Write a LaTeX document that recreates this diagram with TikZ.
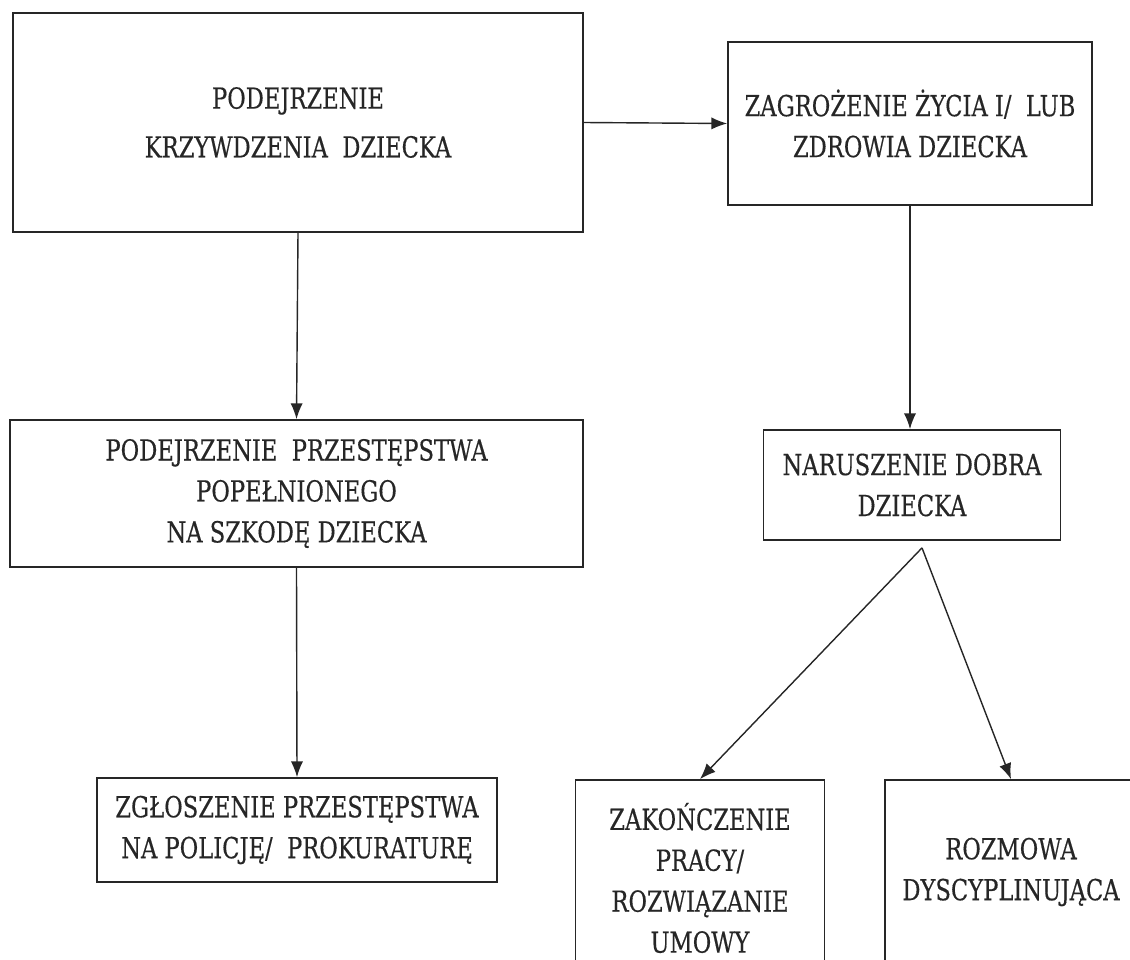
\documentclass[tikz,border=0pt]{standalone}
\usepackage{fontspec}
\setmainfont[FakeStretch=0.78,FakeBold=0.4]{DejaVu Serif}
\usepackage{tikz}
\usetikzlibrary{arrows.meta,calc}
\tikzset{>=latex}
\tikzstyle{box}=[draw=black!85,line width=1pt,align=center,inner sep=0pt,text=black!85,font=\fontsize{16.5}{23.3}\selectfont]
\tikzstyle{arr}=[-{Latex[length=9pt,width=7pt]},black!85,line width=0.8pt]

\begin{document}
\begin{tikzpicture}[x=0.02cm,y=-0.02cm]

  \clip (0,0) rectangle (1130,960); % page frame

  % left column
  \node[box,minimum width=11.4cm,minimum height=4.38cm,font=\fontsize{16.5}{27.8}\selectfont]
    (krzywdzenie) at (298,122.5) {PODEJRZENIE\\KRZYWDZENIA\ \ DZIECKA};
  \node[box,minimum width=11.46cm,minimum height=2.94cm]
    (przestepstwo) at (296.5,493.5) {PODEJRZENIE\ \ PRZESTĘPSTWA\\POPEŁNIONEGO\\NA SZKODĘ DZIECKA};
  \node[box,minimum width=8cm,minimum height=2.08cm]
    (zgloszenie) at (297,830) {ZGŁOSZENIE PRZESTĘPSTWA\\NA POLICJĘ/\ \ PROKURATURĘ};

  % right column
  \node[box,minimum width=7.28cm,minimum height=3.26cm]
    (zagrozenie) at (910,123.5) {ZAGROŻENIE ŻYCIA I/\ \ LUB\\ZDROWIA DZIECKA};
  \node[box,minimum width=5.94cm,minimum height=2.2cm]
    (naruszenie) at (912,485) {NARUSZENIE DOBRA\\DZIECKA};
  \node[box,minimum width=4.98cm,minimum height=3.92cm]
    (zakonczenie) at (700,878) {ZAKOŃCZENIE\\PRACY/\\ROZWIĄZANIE\\UMOWY};
  \node[box,minimum width=5.04cm,minimum height=3.68cm]
    (rozmowa) at (1011,872) {ROZMOWA\\DYSCYPLINUJĄCA};

  \coordinate (rozdziel) at ($(naruszenie.south)+(10,7)$);

  % arrows
  \draw[arr] (krzywdzenie.east) -- (zagrozenie.west);
  \draw[arr] (krzywdzenie.south) -- (przestepstwo.north);
  \draw[arr] (przestepstwo.south) -- (zgloszenie.north);
  \draw[arr] (zagrozenie.south) -- (zagrozenie.south |- naruszenie.north);
  \draw[arr] (rozdziel) -- (zakonczenie.north);
  \draw[arr] (rozdziel) -- (rozmowa.north);

\end{tikzpicture}
\end{document}
